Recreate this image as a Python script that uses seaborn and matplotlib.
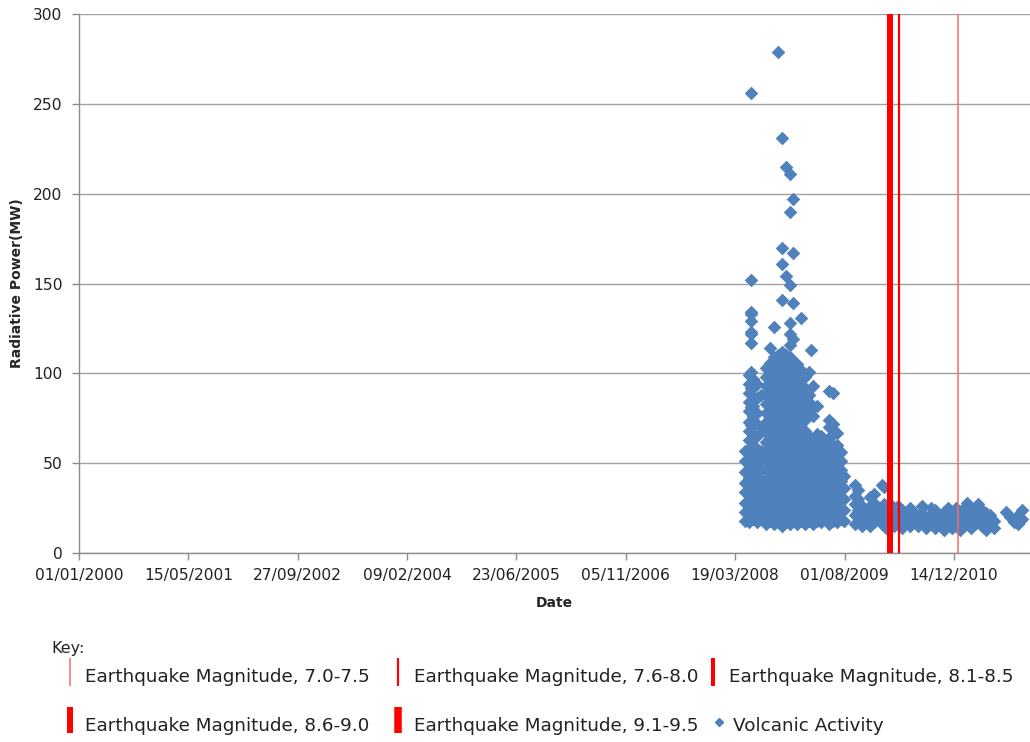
import matplotlib
matplotlib.use("Agg")
import matplotlib.pyplot as plt
import matplotlib.dates as mdates
from matplotlib.lines import Line2D
import pandas as pd
import seaborn as sns

# ---- Volcanic thermal detections: observation date -> radiative power readings (MW)
obs_dates = [
    "2008-05-02", "2008-05-21", "2008-05-31", "2008-06-08", "2008-06-26", "2008-07-14",
    "2008-08-06", "2008-08-25", "2008-09-12", "2008-09-30", "2008-10-18", "2008-11-06",
    "2008-11-24", "2008-12-08", "2008-12-26", "2009-01-13", "2009-01-31", "2009-02-19",
    "2009-02-28", "2009-03-09", "2009-03-27", "2009-04-15", "2009-05-03", "2009-05-21",
    "2009-06-08", "2009-06-27", "2009-07-15", "2009-07-29",
    "2009-09-17", "2009-10-01", "2009-10-19", "2009-11-06", "2009-11-25", "2009-12-13",
    "2009-12-31", "2010-01-19", "2010-01-28", "2010-02-06", "2010-02-24", "2010-03-14",
    "2010-04-02", "2010-04-20", "2010-05-08", "2010-05-26", "2010-06-14", "2010-07-02",
    "2010-07-20", "2010-08-08", "2010-08-30", "2010-09-18", "2010-10-06", "2010-10-29",
    "2010-11-16", "2010-12-04", "2010-12-23", "2011-01-10", "2011-01-28", "2011-02-11",
    "2011-03-01", "2011-03-20", "2011-04-02", "2011-04-21", "2011-05-09", "2011-05-27",
    "2011-06-14", "2011-08-08", "2011-08-27", "2011-09-14", "2011-10-02", "2011-10-20",
]
obs_mw = [
    [18, 23, 28, 34, 39, 45, 51, 57],
    [17, 22, 27, 32, 37, 42, 47, 53, 58, 63, 68, 73, 79, 84, 89, 94, 99],
    [20, 30, 41, 52, 62, 71, 81, 92, 101, 117, 122, 123, 129, 133, 134, 152, 256],
    [19, 24, 29, 35, 40, 45, 50, 55, 60, 66, 71, 76, 82, 87, 92, 97],
    [17, 22, 27, 32, 38, 43, 48, 53, 58, 65, 72, 78, 86, 94],
    [19, 24, 29, 35, 40, 46, 52, 57, 70, 88],
    [16, 21, 26, 31, 36, 41, 47, 52, 57, 62, 67, 73, 78, 83, 88, 93, 98, 103],
    [18, 23, 28, 33, 39, 44, 49, 54, 60, 65, 70, 75, 81, 86, 91, 96, 101, 106, 114],
    [16, 21, 26, 31, 37, 42, 47, 52, 58, 63, 68, 73, 79, 84, 89, 94, 99, 104, 109, 126],
    [17, 22, 27, 32, 38, 43, 48, 53, 59, 64, 69, 74, 80, 85, 90, 95, 100, 105, 110, 279],
    [15, 20, 25, 30, 35, 41, 46, 51, 56, 61, 67, 72, 77, 82, 87, 93, 98, 103, 108, 112,
     141, 161, 170, 231],
    [17, 22, 27, 32, 37, 43, 48, 53, 58, 64, 69, 74, 79, 84, 90, 95, 100, 105, 110, 154, 215],
    [16, 21, 26, 31, 36, 42, 47, 52, 57, 62, 68, 73, 78, 83, 88, 94, 99, 104, 109, 116,
     122, 128, 149, 190, 211],
    [18, 23, 28, 33, 39, 44, 49, 54, 60, 65, 70, 75, 81, 86, 91, 96, 101, 107, 119, 139, 167, 197],
    [16, 21, 26, 31, 37, 42, 47, 52, 58, 63, 68, 73, 79, 84, 89, 94, 99, 105],
    [18, 23, 28, 33, 39, 44, 49, 54, 60, 65, 70, 76, 81, 87, 92, 97, 102, 131],
    [16, 21, 26, 31, 37, 42, 47, 52, 58, 63, 68, 74, 79, 92, 98],
    [18, 23, 28, 33, 39, 44, 49, 54, 60, 65, 84, 88, 101],
    [113],
    [16, 21, 26, 31, 37, 42, 47, 52, 58, 63, 76, 81, 93],
    [18, 23, 28, 33, 39, 44, 49, 55, 60, 66, 82],
    [17, 22, 27, 32, 38, 43, 48, 53, 59, 65],
    [19, 24, 29, 34, 40, 45, 50, 56, 61],
    [16, 21, 26, 31, 37, 42, 47, 53, 58, 64, 70, 74, 90],
    [18, 23, 28, 33, 39, 44, 49, 55, 60, 66, 72, 89],
    [17, 22, 27, 32, 38, 43, 49, 54, 60, 67],
    [19, 24, 29, 35, 40, 46, 51, 56],
    [18, 24, 30, 36, 43],
    [16, 21, 27, 32, 38],
    [18, 24, 30, 35],
    [15, 20, 26],
    [17, 23],
    [15, 20, 26, 31],
    [17, 22, 28, 33],
    [19, 24],
    [16, 21, 38],
    [27, 37],
    [14, 19, 24],
    [17, 22, 27],
    [15, 20, 25],
    [16, 21, 26],
    [14, 19, 24],
    [17, 22],
    [15, 20, 25],
    [18, 23],
    [15, 20],
    [17, 22, 26],
    [14, 19],
    [16, 21, 25],
    [14, 19, 24],
    [16, 21],
    [13, 18, 23],
    [15, 20, 25],
    [14, 19, 23],
    [16, 21, 25],
    [13, 18, 22],
    [15, 20, 25],
    [17, 23, 28],
    [14, 19, 24],
    [16, 21],
    [18, 23, 27],
    [15, 20, 24],
    [13, 18, 22],
    [16, 21],
    [14, 18],
    [23],
    [20],
    [17],
    [16, 21],
    [24, 19],
]

# ---- Large earthquakes (date, magnitude)
quake_dates = ["2010-02-27", "2010-04-06", "2011-01-02"]
quake_mags = [8.8, 7.8, 7.1]

# ---- Magnitude classes for the key
mag_labels = ["7.0-7.5", "7.6-8.0", "8.1-8.5", "8.6-9.0", "9.1-9.5"]
mag_upper = [7.5, 8.0, 8.5, 9.0, 9.5]
mag_width_px = [1.5, 2.2, 4.0, 6.0, 7.5]
mag_colors = ["#FF6666", "#FF0000", "#FF0000", "#FF0000", "#FF0000"]

# ---- Axis ticks
x_tick_dates = ["2000-01-01", "2001-05-15", "2002-09-27", "2004-02-09", "2005-06-23",
                "2006-11-05", "2008-03-19", "2009-08-01", "2010-12-14"]
y_ticks = [0, 50, 100, 150, 200, 250, 300]

BLUE = "#4F81BD"
GREY = "#8C8C8C"
PX = 0.72  # points per pixel at 100 dpi

df = pd.DataFrame({"Date": pd.to_datetime(obs_dates), "Radiative Power": obs_mw})
df = df.explode("Radiative Power").astype({"Radiative Power": float})

sns.set_theme(style="white")
plt.rcParams["font.family"] = ["DejaVu Sans"]

W, H = 1030, 742
fig = plt.figure(figsize=(W / 100, H / 100), dpi=100)
ax = fig.add_axes([79 / W, 1 - 553 / H, (W - 79) / W, (553 - 14) / H])

sns.scatterplot(data=df, x="Date", y="Radiative Power", marker="D", s=48,
                color=BLUE, linewidth=0, ax=ax, zorder=3)


def mag_class(m):
    for i, up in enumerate(mag_upper):
        if m <= up:
            return i
    return len(mag_upper) - 1


for d, m in zip(quake_dates, quake_mags):
    k = mag_class(m)
    ax.axvline(pd.Timestamp(d), color=mag_colors[k], lw=mag_width_px[k] * PX, zorder=4)

ax.set_xlim(pd.Timestamp("2000-01-01"), pd.Timestamp("2011-11-27"))
ax.set_ylim(0, 300)
ax.set_xticks(pd.to_datetime(x_tick_dates))
ax.xaxis.set_major_formatter(mdates.DateFormatter("%d/%m/%Y"))
ax.set_yticks(y_ticks)

ax.grid(axis="y", color="#A0A0A0", lw=1.0, zorder=0)
ax.grid(axis="x", visible=False)
ax.set_axisbelow(True)
for side in ("top", "right"):
    ax.spines[side].set_visible(False)
for side in ("left", "bottom"):
    ax.spines[side].set_color(GREY)
    ax.spines[side].set_linewidth(1.0)

ax.tick_params(axis="both", direction="out", length=5, width=1, color=GREY,
               labelsize=11.2, labelcolor="#222222", left=True, bottom=True)
ax.tick_params(axis="y", pad=7)
ax.tick_params(axis="x", pad=6)

ax.set_xlabel("Date", fontsize=10, fontweight="bold", labelpad=9)
ax.set_ylabel("Radiative Power(MW)", fontsize=10, fontweight="bold", labelpad=6)


# ---- Key below the chart
def fx(x):
    return x / W


def fy(y):
    return 1 - y / H


fig.text(fx(51), fy(648), "Key:", fontsize=11.5, va="center", ha="left", color="#222222")

rows = [(658, 686, 677), (707, 733, 726)]
slots = [(70, 85), (398, 414), (713, 729)]
entries = [(0, 0, 0), (0, 1, 1), (0, 2, 2), (1, 0, 3), (1, 1, 4)]
for r, c, k in entries:
    y0, y1, yt = rows[r]
    xh, xt = slots[c]
    fig.add_artist(Line2D([fx(xh), fx(xh)], [fy(y0), fy(y1)], transform=fig.transFigure,
                          color=mag_colors[k], lw=mag_width_px[k] * PX, solid_capstyle="butt"))
    fig.text(fx(xt), fy(yt), "Earthquake Magnitude, " + mag_labels[k], fontsize=13.2,
             va="center", ha="left", color="#222222")

fig.add_artist(Line2D([fx(719)], [fy(722)], transform=fig.transFigure, marker="D",
                      markersize=4, color=BLUE, linestyle="none"))
fig.text(fx(733), fy(726), "Volcanic Activity", fontsize=13.2, va="center", ha="left",
         color="#222222")

fig.savefig("out.png", dpi=100)
